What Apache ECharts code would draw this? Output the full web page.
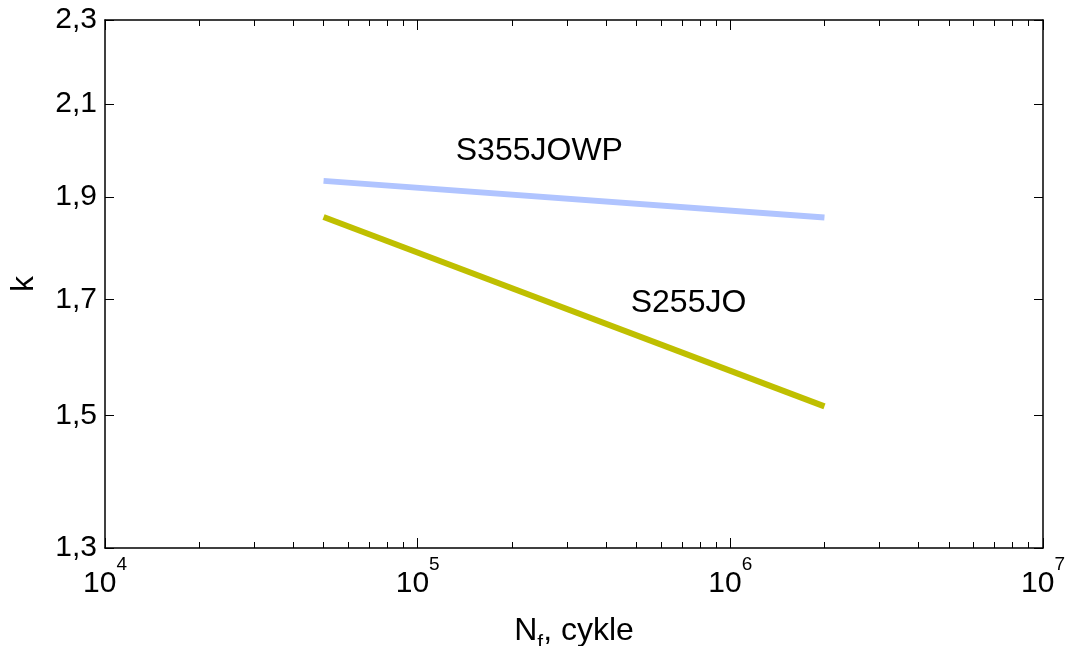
<!DOCTYPE html>
<html>
<head>
<meta charset="utf-8">
<script src="https://cdn.jsdelivr.net/npm/echarts@6/dist/echarts.min.js"></script>
<style>html,body{margin:0;padding:0;background:#fff}#c{width:1074px;height:646px}</style>
</head>
<body>
<div id="c"></div>
<script>
// ---- data ----
const cycles = [5e4, 2e6];
const kS355JOWP = [1.933, 1.858];
const kS255JO = [1.859, 1.515];
const seriesNames = ['S355JOWP', 'S255JO'];
const labelPositions = [[2.45e5, 1.995], [7.35e5, 1.694]];
const xMajorTicks = [1e4, 1e5, 1e6, 1e7];
const xMinorTicks = [2e4,3e4,4e4,5e4,6e4,7e4,8e4,9e4,2e5,3e5,4e5,5e5,6e5,7e5,8e5,9e5,2e6,3e6,4e6,5e6,6e6,7e6,8e6,9e6];
const yTicks = [1.3, 1.5, 1.7, 1.9, 2.1, 2.3];

const FONT = 'Liberation Sans';
const black = '#000';
const chart = echarts.init(document.getElementById('c'), null, {renderer: 'canvas'});

function xAxisBase(pos, ticks, len, showLine, showLabel) {
  return {
    type: 'log', logBase: 10, min: 1e4, max: 1e7, position: pos,
    axisLine: {show: showLine, lineStyle: {color: black, width: 1.5}},
    axisTick: {show: true, inside: true, length: len, customValues: ticks, lineStyle: {color: black, width: 1}},
    axisLabel: showLabel ? {
      show: true, margin: 7, customValues: xMajorTicks,
      formatter: v => '{b|10}{s|' + Math.round(Math.log10(v)) + '}',
      rich: {
        b: {fontSize: 30, fontFamily: FONT, color: black, verticalAlign: 'bottom', padding: [14, 0, 0, 0]},
        s: {fontSize: 19, fontFamily: FONT, color: black, verticalAlign: 'top'}
      }
    } : {show: false},
    splitLine: {show: false}, minorTick: {show: false}
  };
}

const option = {
  animation: false,
  backgroundColor: '#fff',
  grid: {left: 105, right: 31, top: 20, bottom: 98, containLabel: false, outerBoundsMode: 'none'},
  xAxis: [
    Object.assign(xAxisBase('bottom', xMajorTicks, 10, true, true), {
      name: '{n|N}{sub|f}{n|, cykle}', nameLocation: 'middle', nameGap: 67,
      nameTextStyle: {
        rich: {
          n: {fontSize: 32, fontFamily: FONT, color: black, verticalAlign: 'bottom', padding: [0, 0, 7, 0]},
          sub: {fontSize: 21, fontFamily: FONT, color: black, verticalAlign: 'bottom'}
        }
      }
    }),
    xAxisBase('bottom', xMinorTicks, 6, false, false),
    xAxisBase('top', xMajorTicks, 10, true, false),
    xAxisBase('top', xMinorTicks, 6, false, false)
  ],
  yAxis: [
    {
      type: 'log', logBase: 10, min: 1.3, max: 2.3, position: 'left',
      name: 'k', nameLocation: 'middle', nameGap: 65,
      nameTextStyle: {fontSize: 32, fontFamily: FONT, color: black},
      axisLine: {show: true, lineStyle: {color: black, width: 1.5}},
      axisTick: {show: true, inside: true, length: 9, customValues: yTicks, lineStyle: {color: black}},
      axisLabel: {show: true, margin: 8, customValues: yTicks, fontSize: 30, fontFamily: FONT, color: black,
        formatter: v => v.toFixed(1).replace('.', ',')},
      splitLine: {show: false}
    },
    {
      type: 'log', logBase: 10, min: 1.3, max: 2.3, position: 'right',
      axisLine: {show: true, lineStyle: {color: black, width: 1.5}},
      axisTick: {show: true, inside: true, length: 9, customValues: yTicks, lineStyle: {color: black}},
      axisLabel: {show: false},
      splitLine: {show: false}
    }
  ],
  series: [
    {
      name: seriesNames[0], type: 'line', xAxisIndex: 0, yAxisIndex: 0,
      data: cycles.map((c, i) => [c, kS355JOWP[i]]),
      showSymbol: false, symbol: 'none',
      lineStyle: {color: '#b0c4ff', width: 6, cap: 'butt'}
    },
    {
      name: seriesNames[1], type: 'line', xAxisIndex: 0, yAxisIndex: 0,
      data: cycles.map((c, i) => [c, kS255JO[i]]),
      showSymbol: false, symbol: 'none',
      lineStyle: {color: '#bfbf00', width: 6, cap: 'butt'}
    },
    {
      type: 'scatter', xAxisIndex: 0, yAxisIndex: 0, symbolSize: 0, silent: true,
      itemStyle: {opacity: 1},
      data: labelPositions.map((p, i) => ({value: p, name: seriesNames[i]})),
      label: {show: true, position: 'inside', formatter: p => p.name, opacity: 1,
        fontSize: 32, fontFamily: FONT, color: black}
    }
  ]
};
chart.setOption(option);
</script>
</body>
</html>
